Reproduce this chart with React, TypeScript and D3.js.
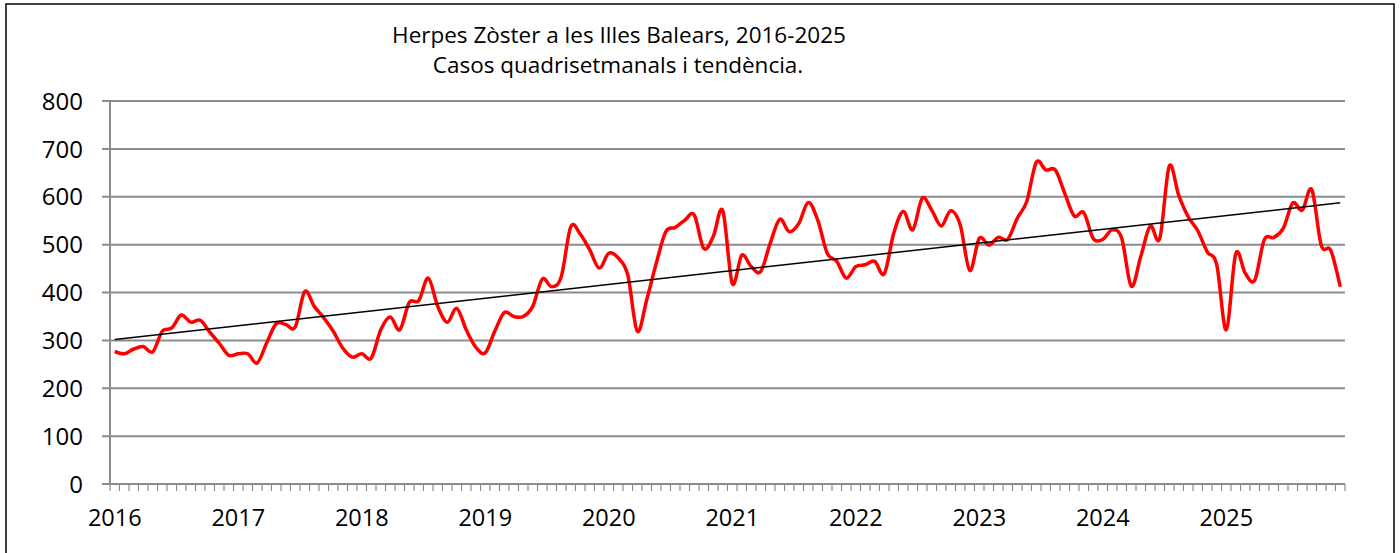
import * as d3 from "d3";

// Casos quadrisetmanals (13 períodes per any)
const years = ["2016", "2017", "2018", "2019", "2020", "2021", "2022", "2023", "2024", "2025"];
const cases2016 = [277, 272, 282, 287, 276, 319, 326, 353, 338, 342, 317, 294, 269];
const cases2017 = [272, 272, 253, 295, 335, 333, 328, 402, 371, 347, 319, 284, 265];
const cases2018 = [272, 263, 322, 349, 322, 379, 383, 430, 371, 338, 367, 322, 286];
const cases2019 = [274, 319, 358, 350, 350, 371, 428, 412, 433, 537, 522, 489, 451];
const cases2020 = [482, 472, 437, 319, 385, 461, 527, 536, 551, 562, 492, 517, 571];
const cases2021 = [419, 478, 454, 444, 503, 553, 527, 544, 588, 551, 482, 465, 430];
const cases2022 = [454, 458, 465, 439, 524, 569, 531, 597, 572, 539, 571, 541, 446];
const cases2023 = [513, 499, 515, 511, 555, 590, 672, 656, 656, 607, 560, 567, 513];
const cases2024 = [511, 531, 513, 413, 475, 539, 513, 664, 603, 558, 529, 485, 458];
const cases2025 = [322, 481, 440, 426, 510, 515, 534, 587, 572, 615, 499, 488, 412];
const yTicks = [0, 100, 200, 300, 400, 500, 600, 700, 800];

const casesByYear = [
  cases2016, cases2017, cases2018, cases2019, cases2020,
  cases2021, cases2022, cases2023, cases2024, cases2025,
];

const W = 1400;
const H = 553;
const plot = { left: 110, right: 1345, top: 101, bottom: 484 };
const font = "'Open Sans', 'Noto Sans', sans-serif";
const gridColor = "#8c8c8c";

export default function App() {
  const values = casesByYear.flat();
  const idx = d3.range(values.length);

  const x = d3.scaleBand<number>().domain(idx).range([plot.left, plot.right]);
  const cx = (i: number) => (x(i) ?? 0) + x.bandwidth() / 2;
  const y = d3.scaleLinear().domain([0, 800]).range([plot.bottom, plot.top]);

  // tendència lineal (mínims quadrats)
  const mx = d3.mean(idx)!;
  const my = d3.mean(values)!;
  const slope =
    d3.sum(idx, (i) => (i - mx) * (values[i] - my)) / d3.sum(idx, (i) => (i - mx) ** 2);
  const trend = (i: number) => my + slope * (i - mx);

  const line = d3
    .line<number>()
    .x((i) => cx(i))
    .y((i) => y(values[i]))
    .curve(d3.curveCardinal.tension(0));

  const tickXs = [...idx.map((i) => x(i) ?? 0), plot.right];

  return (
    <svg
      width={W}
      height={H}
      style={{ position: "absolute", left: 0, top: 0, background: "#fff" }}
      fontFamily={font}
    >
      <rect x={6} y={4} width={1388} height={570} fill="#fff" stroke="#000" strokeWidth={1.5} />

      <text x={619} y={43} textAnchor="middle" fontSize={22.5} fill="#000">
        Herpes Zòster a les Illes Balears, 2016-2025
      </text>
      <text x={618} y={73} textAnchor="middle" fontSize={22.5} fill="#000">
        Casos quadrisetmanals i tendència.
      </text>

      {yTicks.map((t) => (
        <g key={t}>
          <line
            x1={plot.left - 8}
            x2={plot.right}
            y1={y(t)}
            y2={y(t)}
            stroke={gridColor}
            strokeWidth={2}
          />
          <text x={83} y={y(t)} dy="0.36em" textAnchor="end" fontSize={24} fill="#000">
            {t}
          </text>
        </g>
      ))}

      <line x1={plot.left} x2={plot.left} y1={plot.top} y2={plot.bottom} stroke={gridColor} strokeWidth={2} />
      {tickXs.map((tx, k) => (
        <line key={k} x1={tx} x2={tx} y1={plot.bottom} y2={plot.bottom + 7} stroke={gridColor} strokeWidth={1.2} />
      ))}

      {years.map((yr, k) => (
        <text
          key={yr}
          x={cx(k * casesByYear[0].length)}
          y={526}
          textAnchor="middle"
          fontSize={23.5}
          fill="#000"
        >
          {yr}
        </text>
      ))}

      <path d={line(idx) ?? ""} fill="none" stroke="#ff0000" strokeWidth={3.5} strokeLinejoin="round" />
      <line
        x1={cx(0)}
        x2={cx(values.length - 1)}
        y1={y(trend(0))}
        y2={y(trend(values.length - 1))}
        stroke="#000"
        strokeWidth={1.5}
      />
    </svg>
  );
}
